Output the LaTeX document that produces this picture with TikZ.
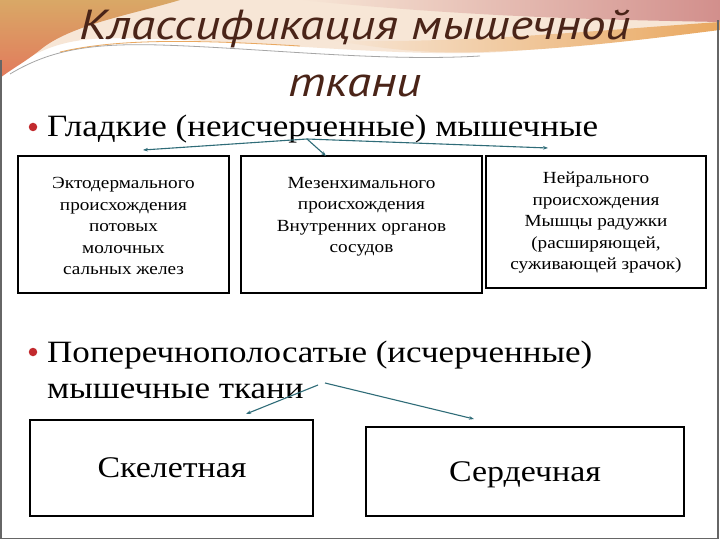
\documentclass[tikz,border=0pt]{standalone}
\usepackage{fontspec}
\setmainfont{Liberation Serif}[FakeStretch=1.13]
\newfontfamily\titlefont{PT Sans}[FakeStretch=1.17]
\usetikzlibrary{arrows.meta}
\definecolor{titlebrown}{HTML}{4A2418}
\definecolor{linkteal}{HTML}{2F6C78}
\definecolor{dotred}{HTML}{C22A2E}
\definecolor{tan}{HTML}{D9A866}
\definecolor{salmon}{HTML}{E27A5C}
\definecolor{peach}{HTML}{F7E6D6}
\definecolor{rose}{HTML}{D28F8C}
\definecolor{orng}{HTML}{E9A860}
\tikzset{
  box/.style={draw=black, line width=1.8pt, inner sep=0pt},
  boxtext/.style={align=center, font=\fontsize{17}{21.5}\selectfont, inner sep=0pt},
  bigtext/.style={font=\fontsize{31}{36}\selectfont, anchor=base west, inner sep=0pt},
  titletext/.style={font=\titlefont\itshape\fontsize{42}{57}\selectfont, text=titlebrown, anchor=base, inner sep=0pt},
  kindtext/.style={font=\fontsize{30}{34}\selectfont, anchor=base, inner sep=0pt},
  link/.style={draw=linkteal, line width=1.1pt, -{Stealth[length=5pt,width=3.6pt]}},
  bullet/.style={circle, fill=dotred, minimum size=8.5pt, inner sep=0pt}
}
\begin{document}
\begin{tikzpicture}[x=1pt,y=-1pt]
\useasboundingbox (0,0) rectangle (720,540);
\fill[white] (0,0) rectangle (720,540);
% header decoration
\fill[peach] (0,0) -- (720,0) -- (720,28) .. controls (680,32) and (600,45) .. (500,52)
  .. controls (400,58) and (250,40) .. (120,38) .. controls (70,38) and (40,45) .. (0,78) -- cycle;
\shade[top color=tan, bottom color=salmon] (0,0) -- (180,0) .. controls (130,15) and (70,25) .. (40,50)
  .. controls (25,62) and (10,70) .. (0,78) -- cycle;
\shade[left color=peach, right color=rose] (300,0) -- (720,0) -- (720,22) .. controls (620,20) and (480,18) .. (300,0) -- cycle;
\shade[left color=peach, right color=orng] (330,40) .. controls (450,45) and (600,30) .. (720,22) -- (720,30)
  .. controls (640,40) and (560,50) .. (480,52) .. controls (420,54) and (380,48) .. (330,40) -- cycle;
\draw[gray!70, line width=0.8pt] (10,74) .. controls (50,50) and (90,43) .. (160,45) .. controls (260,48) and (380,62) .. (480,56);
\draw[orng, line width=0.8pt] (60,52) .. controls (120,38) and (200,40) .. (300,46);
% slide frame
\draw[gray!80!black, line width=1.5pt] (1,60) -- (1,538.5) -- (718,538.5) -- (718,20);
% title
\node[titletext] (title1) at (355,40) {Классификация мышечной};
\node[titletext] (title2) at (355,97) {ткани};
% bullet 1
\node[bullet] (dot1) at (33,127) {};
\node[bigtext] (smooth) at (47,137) {Гладкие (неисчерченные) мышечные};
% boxes row 1
\node[box, minimum width=211pt, minimum height=137pt] (b1) at (123.5,224.5) {};
\node[box, minimum width=241pt, minimum height=137pt] (b2) at (361.5,224.5) {};
\node[box, minimum width=220pt, minimum height=132pt] (b3) at (596,222) {};
\node[boxtext] (t1) at (123.5,226) {Эктодермального\\происхождения\\потовых\\молочных\\сальных желез};
\node[boxtext] (t2) at (361.5,217) {Мезенхимального\\происхождения\\Внутренних органов\\сосудов};
\node[boxtext] (t3) at (596,223) {Нейрального\\происхождения\\Мышцы радужки\\(расширяющей,\\суживающей зрачок)};
% connectors row 1
\coordinate (hub1) at (307,139);
\coordinate (e1) at (143,150);
\coordinate (e2) at (326,156);
\coordinate (e3) at (548,148);
\draw[link] (hub1) -- (e1);
\draw[link] (hub1) -- (e2);
\draw[link] (hub1) -- (e3);
% bullet 2
\node[bullet] (dot2) at (33,352) {};
\node[bigtext] (striated1) at (47,362) {Поперечнополосатые (исчерченные)};
\node[bigtext] (striated2) at (47,398) {мышечные ткани};
% boxes row 2
\node[box, minimum width=283pt, minimum height=96pt] (b4) at (171.5,468) {};
\node[box, minimum width=318pt, minimum height=89pt] (b5) at (525,471.5) {};
\node[kindtext] (t4) at (172,477) {Скелетная};
\node[kindtext] (t5) at (525,481) {Сердечная};
% connectors row 2
\coordinate (hub2a) at (318,385);
\coordinate (hub2b) at (325,383);
\coordinate (e4) at (246,414);
\coordinate (e5) at (474,419);
\draw[link] (hub2a) -- (e4);
\draw[link] (hub2b) -- (e5);
\end{tikzpicture}
\end{document}
